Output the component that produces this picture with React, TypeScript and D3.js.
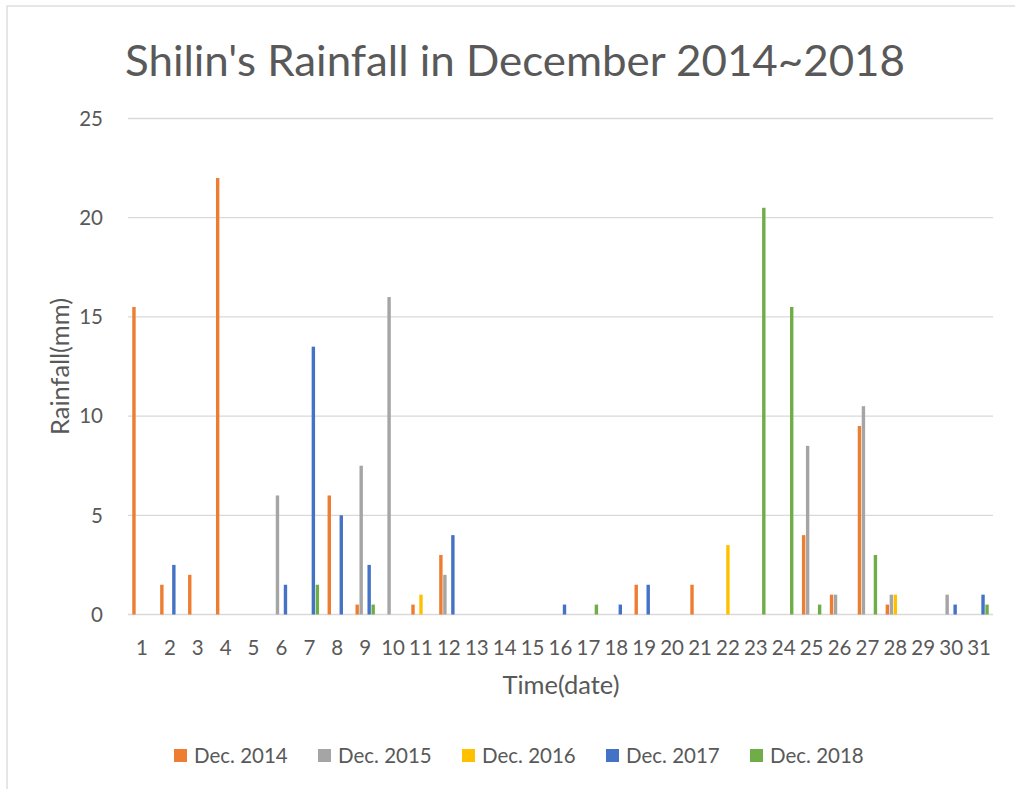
import React from 'react';
import * as d3 from 'd3';

// rainfall (mm) for each day of December, one array per year
const days = d3.range(1, 32).map(String);
const seriesNames = ['Dec. 2014', 'Dec. 2015', 'Dec. 2016', 'Dec. 2017', 'Dec. 2018'];
const colors = ['#ED7D31', '#A5A5A5', '#FFC000', '#4472C4', '#70AD47'];

const dec2014 = [15.5, 1.5, 2, 22, 0, 0, 0, 6, 0.5, 0, 0.5, 3, 0, 0, 0, 0, 0, 0, 1.5, 0, 1.5, 0, 0, 0, 4, 1, 9.5, 0.5, 0, 0, 0];
const dec2015 = [0, 0, 0, 0, 0, 6, 0, 0, 7.5, 16, 0, 2, 0, 0, 0, 0, 0, 0, 0, 0, 0, 0, 0, 0, 8.5, 1, 10.5, 1, 0, 1, 0];
const dec2016 = [0, 0, 0, 0, 0, 0, 0, 0, 0, 0, 1, 0, 0, 0, 0, 0, 0, 0, 0, 0, 0, 3.5, 0, 0, 0, 0, 0, 1, 0, 0, 0];
const dec2017 = [0, 2.5, 0, 0, 0, 1.5, 13.5, 5, 2.5, 0, 0, 4, 0, 0, 0, 0.5, 0, 0.5, 1.5, 0, 0, 0, 0, 0, 0, 0, 0, 0, 0, 0.5, 1];
const dec2018 = [0, 0, 0, 0, 0, 0, 1.5, 0, 0.5, 0, 0, 0, 0, 0, 0, 0, 0.5, 0, 0, 0, 0, 0, 20.5, 15.5, 0.5, 0, 3, 0, 0, 0, 0.5];

const yTicks = [0, 5, 10, 15, 20, 25];

const allSeries = [dec2014, dec2015, dec2016, dec2017, dec2018];

const W = 1015;
const H = 789;
const FONT = 'Lato, "Open Sans", sans-serif';
const TEXT = '#595959';
const GRID = '#D9D9D9';

export default function App() {
  const x0 = d3.scaleBand<string>().domain(days).range([128, 993]).padding(0);
  const x1 = d3
    .scaleBand<string>()
    .domain(seriesNames)
    .range([0, x0.bandwidth()])
    .paddingInner(0)
    .paddingOuter(0.99);
  const y = d3.scaleLinear().domain([0, 25]).range([614.5, 118.5]);

  const bw = x1.bandwidth();

  return (
    <svg
      width={W}
      height={H}
      style={{ position: 'absolute', left: 0, top: 0, background: '#fff' }}
      fontFamily={FONT}
    >
      <rect x={0} y={0} width={W} height={H} fill="#fff" />
      {/* chart frame (runs past the right and bottom edge) */}
      <rect x={7} y={6} width={W + 20} height={H + 20} fill="none" stroke={GRID} strokeWidth={1.3} />

      <text
        x={515}
        y={76}
        textAnchor="middle"
        fontSize={42}
        fill={TEXT}
        textLength={780}
        lengthAdjust="spacingAndGlyphs"
      >
        Shilin's Rainfall in December 2014~2018
      </text>

      {/* gridlines + y labels */}
      {yTicks.map((t) => (
        <g key={t}>
          <line x1={128} x2={993} y1={y(t)} y2={y(t)} stroke={GRID} strokeWidth={1.3} />
          <text x={103} y={y(t)} dy="0.36em" textAnchor="end" fontSize={20.5} fill={TEXT}>
            {t}
          </text>
        </g>
      ))}

      {/* bars */}
      {allSeries.map((vals, si) => (
        <g key={seriesNames[si]} fill={colors[si]}>
          {vals.map((v, di) =>
            v > 0 ? (
              <rect
                key={di}
                x={(x0(days[di]) ?? 0) + (x1(seriesNames[si]) ?? 0) + 0.3}
                y={y(v)}
                width={bw - 0.6}
                height={y(0) - y(v)}
              />
            ) : null
          )}
        </g>
      ))}

      {/* x labels */}
      {days.map((d) => (
        <text
          key={d}
          x={(x0(d) ?? 0) + x0.bandwidth() / 2}
          y={654.5}
          textAnchor="middle"
          fontSize={20.5}
          fill={TEXT}
        >
          {d}
        </text>
      ))}

      <text
        x={561}
        y={694}
        textAnchor="middle"
        fontSize={25}
        fill={TEXT}
        textLength={117}
        lengthAdjust="spacingAndGlyphs"
      >
        Time(date)
      </text>
      <text
        transform={`translate(69, 366.5) rotate(-90)`}
        textAnchor="middle"
        fontSize={25}
        fill={TEXT}
        textLength={137}
        lengthAdjust="spacingAndGlyphs"
      >
        Rainfall(mm)
      </text>

      {/* legend */}
      {seriesNames.map((name, i) => {
        const lx = 174 + i * 144;
        return (
          <g key={name}>
            <rect x={lx} y={749} width={13} height={13} fill={colors[i]} />
            <text x={lx + 20} y={762.5} fontSize={20.5} fill={TEXT}>
              {name}
            </text>
          </g>
        );
      })}
    </svg>
  );
}
